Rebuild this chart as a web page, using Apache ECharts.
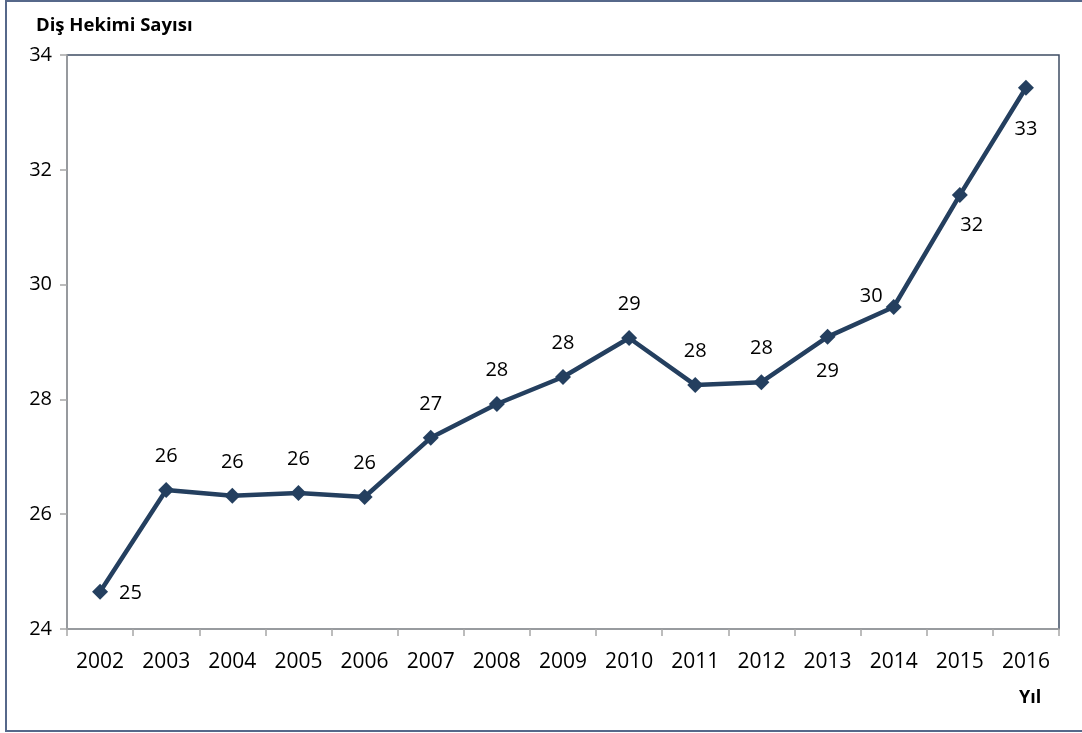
<!DOCTYPE html>
<html>
<head>
<meta charset="utf-8">
<script src="https://cdn.jsdelivr.net/npm/echarts@6/dist/echarts.min.js"></script>
<style>
html,body{margin:0;padding:0;background:#fff;}
#chart{width:1082px;height:733px;}
</style>
</head>
<body>
<div id="chart"></div>
<script>
const years = ['2002','2003','2004','2005','2006','2007','2008','2009','2010','2011','2012','2013','2014','2015','2016'];
const dentists = [24.65,26.42,26.32,26.37,26.30,27.33,27.92,28.39,29.07,28.25,28.30,29.09,29.61,31.56,33.43];
const yTicks = {min:24, max:34, interval:2};
const titleText = 'Diş Hekimi Sayısı';
const xName = 'Yıl';

// label placement (style config, separate from data)
const labelPlace = [
  {position:'right', distance:11, offset:[0,2]},
  {position:'top', distance:16},
  {position:'top', distance:16},
  {position:'top', distance:16},
  {position:'top', distance:16},
  {position:'top', distance:16},
  {position:'top', distance:16},
  {position:'top', distance:16},
  {position:'top', distance:16},
  {position:'top', distance:16},
  {position:'top', distance:16},
  {position:'bottom', distance:16},
  {position:'left', distance:3, offset:[0,-11]},
  {position:'bottom', distance:12, offset:[12,0]},
  {position:'bottom', distance:24}
];

const FONT = "'Open Sans', sans-serif";
const chart = echarts.init(document.getElementById('chart'), null, {renderer:'canvas'});
chart.setOption({
  animation:false,
  backgroundColor:'#fff',
  title:{
    text:titleText, left:31, top:11,
    textStyle:{fontFamily:FONT, fontWeight:'bold', fontSize:18.5, color:'#000'}
  },
  grid:{left:67, right:23, top:55, bottom:104, show:true, borderColor:'#3e4c63', borderWidth:1.5, backgroundColor:'transparent'},
  xAxis:{
    type:'category', data:years, boundaryGap:true,
    axisLine:{lineStyle:{color:'#a6a6a6', width:1.5}},
    axisTick:{show:true, length:7, lineStyle:{color:'#a6a6a6', width:1.5}},
    axisLabel:{fontFamily:FONT, fontSize:21, color:'#000', margin:23}
  },
  yAxis:{
    type:'value', min:yTicks.min, max:yTicks.max, interval:yTicks.interval,
    splitLine:{show:false},
    axisLine:{show:true, lineStyle:{color:'#a6a6a6', width:1.5}},
    axisTick:{show:true, length:7, lineStyle:{color:'#a6a6a6', width:1.5}},
    axisLabel:{fontFamily:FONT, fontSize:20, color:'#000', margin:15}
  },
  graphic:[
    {type:'rect', shape:{x:6, y:1, width:1090, height:730}, style:{fill:'none', stroke:'#56688a', lineWidth:2}, silent:true, z:-1},
    {type:'text', left:1019, top:689, style:{text:xName, font:"bold 18px 'Open Sans', sans-serif", fill:'#000'}}
  ],
  series:[{
    type:'line',
    data:dentists.map((v,i)=>({value:v, label:Object.assign({}, labelPlace[i])})),
    symbol:'diamond', symbolSize:16,
    lineStyle:{color:'#243f5f', width:4.5},
    itemStyle:{color:'#243f5f'},
    label:{show:true, fontFamily:FONT, fontSize:20, color:'#000', formatter:p=>Math.round(p.value)}
  }]
});
</script>
</body>
</html>
